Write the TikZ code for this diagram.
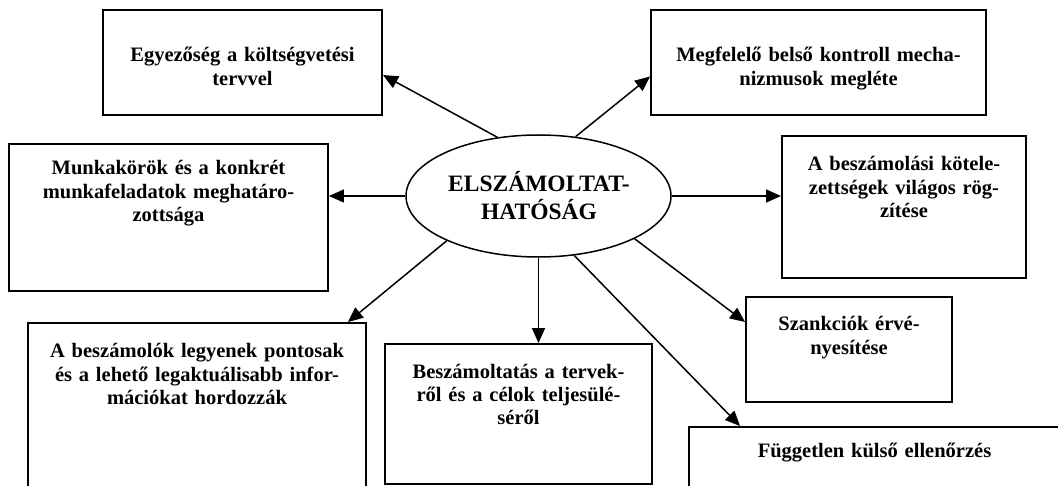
\documentclass[tikz,border=0pt]{standalone}
\usepackage{fontspec}
\setmainfont{Liberation Serif}
\usetikzlibrary{arrows.meta,shapes.geometric}
\begin{document}
\begin{tikzpicture}[x=1pt,y=-1pt,
  box/.style={draw, line width=1.9pt, rectangle, inner sep=0pt},
  hub/.style={draw, line width=1.5pt, ellipse, inner sep=0pt},
  lbl/.style={anchor=base, align=center, inner sep=0pt,
    font=\fontsize{20.5}{23.5}\selectfont\bfseries},
  hublbl/.style={anchor=base, align=center, inner sep=0pt, text width=240pt,
    font=\fontsize{23.5}{27.5}\selectfont\bfseries},
  arr/.style={line width=1.5pt, -{Triangle[length=15pt,width=13pt]}},
]
\clip (0,0) rectangle (1058,486);

% central ellipse
\node[hub, minimum width=265pt, minimum height=122pt] (ell) at (538.5,196) {};
\node[hublbl] (tell) at (539,192) {ELSZÁMOLTAT-\\HATÓSÁG};

% surrounding boxes
\node[box, minimum width=279pt, minimum height=105pt] (b1) at (242.5,62.5) {};
\node[box, minimum width=319pt, minimum height=147pt] (b2) at (168.5,217.5) {};
\node[box, minimum width=335pt, minimum height=105pt] (b3) at (818.5,62.5) {};
\node[box, minimum width=244pt, minimum height=142pt] (b4) at (904,207) {};
\node[box, minimum width=206pt, minimum height=105pt] (b5) at (849,349.5) {};
\node[box, minimum width=371pt, minimum height=93pt]  (b6) at (874.5,473.5) {};
\node[box, minimum width=338pt, minimum height=197pt] (b7) at (197,421.5) {};
\node[box, minimum width=267pt, minimum height=140pt] (b8) at (518.5,414) {};

% box texts
\node[lbl, text width=279pt] (t1) at (242.5,62) {Egyezőség a költségvetési\\tervvel};
\node[lbl, text width=319pt] (t2) at (168.5,175) {Munkakörök és a konkrét\\munkafeladatok meghatáro-\\zottsága};
\node[lbl, text width=335pt] (t3) at (818.5,62) {Megfelelő belső kontroll mecha-\\nizmusok megléte};
\node[lbl, text width=244pt] (t4) at (904,171) {A beszámolási kötele-\\zettségek világos rög-\\zítése};
\node[lbl, text width=206pt] (t5) at (849,331) {Szankciók érvé-\\nyesítése};
\node[lbl, text width=340pt] (t6) at (874.5,457) {Független külső ellenőrzés};
\node[lbl, text width=338pt] (t7) at (197,358) {A beszámolók legyenek pontosak\\és a lehető legaktuálisabb infor-\\mációkat hordozzák};
\node[lbl, text width=267pt] (t8) at (518.5,378) {Beszámoltatás a tervek-\\ről és a célok teljesülé-\\séről};

% connectors from the ellipse to the boxes
\draw[arr] (ell.125.6) -- ([yshift=-12.5pt]b1.east);
\draw[arr] (ell.west) -- (ell.west -| b2.east);
\draw[arr] (ell.58) -- ([yshift=-14pt]b3.west);
\draw[arr] (ell.east) -- (ell.east -| b4.west);
\draw[arr] (ell.-24) -- ([yshift=27.5pt]b5.west);
\draw[arr] (ell.-59) -- ([xshift=52pt]b6.north west);
\draw[arr] (ell.south) -- (ell.south |- b8.north);
\draw[arr] (ell.-154.6) -- ([xshift=-19pt]b7.north east);
\end{tikzpicture}
\end{document}
